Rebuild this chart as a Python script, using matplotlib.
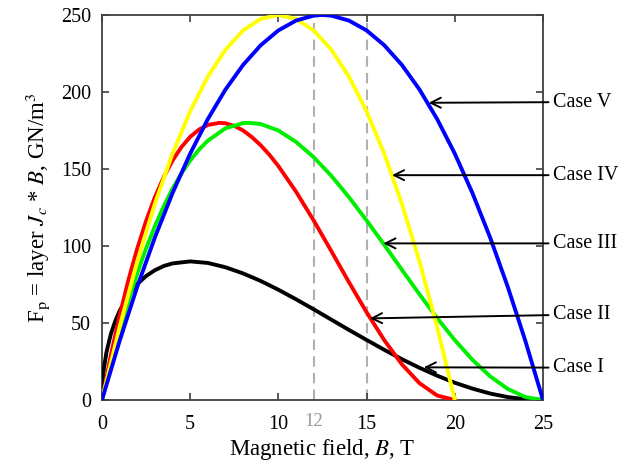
import numpy as np
import matplotlib
matplotlib.use('Agg')
import matplotlib.pyplot as plt

plt.rcParams['font.family'] = ['Liberation Serif', 'DejaVu Serif']
plt.rcParams['mathtext.fontset'] = 'stix'

# Case I (black), Bc2 = 25 T
b1 = [0, 0.05, 0.1, 0.25, 0.5, 0.75, 1, 1.5, 2, 2.5, 3, 3.5, 4, 5, 6, 7, 8, 9, 10, 11,
      12, 13, 14, 15, 16, 17, 18, 19, 20, 21, 22, 23, 24, 25]
f1 = [0, 14.0, 19.7, 30.8, 42.7, 51.2, 57.9, 68.0, 75.3, 80.5, 84.3, 87.0, 88.7, 90.0,
      89.0, 86.2, 82.2, 77.3, 71.6, 65.4, 58.9, 52.2, 45.5, 39.0, 32.6, 26.5, 20.9,
      15.8, 11.2, 7.4, 4.2, 1.9, 0.5, 0]

# Case II (red), Bc2 = 20 T
b2 = [0, 0.5, 1, 1.5, 2, 2.5, 3, 3.5, 4, 4.5, 5, 5.5, 6, 6.67, 7, 7.5, 8, 8.5, 9, 9.5,
      10, 11, 12, 13, 14, 15, 16, 17, 18, 19, 20]
f2 = [0, 28.9, 54.8, 78.0, 98.4, 116.3, 131.7, 144.7, 155.5, 164.2, 170.9, 175.6, 178.6,
      180.0, 179.7, 178.0, 175.0, 170.7, 165.4, 159.1, 151.9, 135.3, 116.6, 96.7, 76.5,
      57.0, 38.9, 23.2, 10.9, 2.9, 0]

# Case III (green), Bc2 = 25 T
b3 = [0, 0.5, 1, 1.5, 2, 2.5, 3, 3.5, 4, 4.5, 5, 5.5, 6, 7, 8, 8.33, 9, 10, 11, 12, 13,
      14, 15, 16, 17, 18, 19, 20, 21, 22, 23, 24, 25]
f3 = [0, 23.3, 44.8, 64.4, 82.3, 98.4, 112.9, 125.8, 137.2, 147.1, 155.5, 162.6, 168.4,
      176.4, 179.8, 180.0, 179.2, 175.0, 167.6, 157.7, 145.6, 131.7, 116.6, 100.8, 84.6,
      68.6, 53.2, 38.9, 26.1, 15.4, 7.2, 1.9, 0]

# Case IV (yellow), Bc2 = 20 T
b4 = [0, 1, 2, 3, 4, 5, 6, 7, 8, 9, 10, 11, 12, 13, 14, 15, 16, 17, 18, 19, 20]
f4 = [0, 47.5, 90, 127.5, 160, 187.5, 210, 227.5, 240, 247.5, 250, 247.5, 240, 227.5,
      210, 187.5, 160, 127.5, 90, 47.5, 0]

# Case V (blue), Bc2 = 25 T
b5 = [0, 1, 2, 3, 4, 5, 6, 7, 8, 9, 10, 11, 12, 12.5, 13, 14, 15, 16, 17, 18, 19,
      20, 21, 22, 23, 24, 25]
f5 = [0, 38.4, 73.6, 105.6, 134.4, 160, 182.4, 201.6, 217.6, 230.4, 240, 246.4, 249.6,
      250, 249.6, 246.4, 240, 230.4, 217.6, 201.6, 182.4, 160, 134.4, 105.6, 73.6,
      38.4, 0]

case_names = ['Case V', 'Case IV', 'Case III', 'Case II', 'Case I']
arrow_tips = [(18.52, 193), (16.44, 146), (15.95, 101.7), (15.19, 53), (18.24, 21.2)]
label_y = [193.5, 146, 101.7, 55.5, 21.0]

fig = plt.figure(figsize=(6.35, 4.65), dpi=100)
ax = fig.add_axes([0.1606, 0.1398, 0.6945, 0.8279])

ax.axvline(12, color='#b0b0b0', lw=1.5, ls=(0, (5, 3)), zorder=1)
ax.axvline(15, color='#b0b0b0', lw=1.5, ls=(0, (5, 3)), zorder=1)

lw = 2.8
ax.plot(b1, f1, color='black', lw=lw, zorder=3)
ax.plot(b2, f2, color='#ff0000', lw=lw, zorder=3)
ax.plot(b3, f3, color='#00ee00', lw=lw, zorder=3)
ax.plot(b4, f4, color='#ffff00', lw=lw, zorder=3)
ax.plot(b5, f5, color='#0000ff', lw=lw, zorder=3)

for name, tip, ly in zip(case_names, arrow_tips, label_y):
    ax.annotate(name, xy=tip, xytext=(25.55, ly), ha='left', va='center',
                fontsize=14.5, annotation_clip=False,
                arrowprops=dict(arrowstyle='->', color='black', lw=1.4,
                                shrinkA=1, shrinkB=0, mutation_scale=18))

ax.set_xlim(0, 25)
ax.set_ylim(0, 250)
ax.set_xticks([0, 5, 10, 15, 20, 25])
ax.set_yticks([0, 50, 100, 150, 200, 250])
ax.tick_params(axis='both', direction='in', top=True, right=True, length=5, width=1.2,
               labelsize=14.5, color='#404040')
ax.tick_params(axis='x', pad=11)
ax.tick_params(axis='y', pad=8)
ax.text(12, -13.8, '12', ha='center', va='center', fontsize=13.5, color='#999999')

for s in ax.spines.values():
    s.set_color('#404040')
    s.set_linewidth(1.3)

ax.set_xlabel('Magnetic field, $B$, T', fontsize=16.5, labelpad=2)
ax.set_ylabel(r'F$_\mathrm{p}$ = layer $J_c$ * $B$, GN/m$^3$', fontsize=16.5, labelpad=6)

fig.savefig('out.png', dpi=100)
